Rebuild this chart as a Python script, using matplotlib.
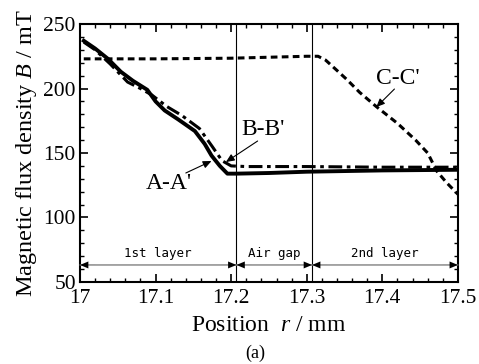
import matplotlib
matplotlib.use("Agg")
import matplotlib.pyplot as plt
from matplotlib.ticker import MultipleLocator

# ---- data ----
x_a = [17.005, 17.02, 17.037, 17.054, 17.07, 17.089, 17.1, 17.112, 17.13, 17.152,
       17.165, 17.174, 17.185, 17.195, 17.207, 17.25, 17.3, 17.4, 17.5]
y_a = [237, 231, 223, 213, 206, 199, 190, 183, 176, 167,
       157, 148, 140, 134, 134, 134.5, 135.5, 136.5, 137]

x_b = [17.005, 17.02, 17.04, 17.063, 17.08, 17.095, 17.115, 17.135, 17.158, 17.175,
       17.188, 17.2, 17.22, 17.3, 17.4, 17.5]
y_b = [236, 230, 219, 205, 200, 195, 186, 179, 169, 155,
       144, 140, 139.5, 139.5, 139, 139]

x_c = [17.005, 17.1, 17.2, 17.3, 17.315, 17.325, 17.34, 17.353, 17.37, 17.392,
       17.42, 17.444, 17.46, 17.472, 17.485, 17.5]
y_c = [223, 223, 223.5, 225, 225, 222, 214, 207, 197, 186,
       173, 160, 150, 136, 127, 118]

boundaries = [17.0, 17.207, 17.307, 17.5]
region_labels = ["1st layer", "Air gap", "2nd layer"]

xticks = [17, 17.1, 17.2, 17.3, 17.4, 17.5]
xtick_labels = ["17", "17.1", "17.2", "17.3", "17.4", "17.5"]
yticks = [50, 100, 150, 200, 250]

# curve labels: text position, arrow tail, arrow head
labels = ["A-A'", "B-B'", "C-C'"]
label_pos = [(17.118, 126), (17.242, 168), (17.42, 208)]
arrow_tail = [(17.14, 134.5), (17.235, 159.3), (17.416, 199.6)]
arrow_head = [(17.174, 143.8), (17.193, 143), (17.392, 185.6)]

# ---- figure ----
plt.rcParams['font.family'] = ['Liberation Serif', 'DejaVu Serif']
plt.rcParams['mathtext.fontset'] = 'custom'
plt.rcParams['mathtext.it'] = 'Liberation Serif:italic'
plt.rcParams['mathtext.rm'] = 'Liberation Serif'

fig = plt.figure(figsize=(4.79, 3.64), dpi=100)
ax = fig.add_axes([0.167, 0.2253, 0.789, 0.7087])

ax.plot(x_a, y_a, color='black', lw=2.8, solid_joinstyle='round')
ax.plot(x_b, y_b, color='black', lw=2.2, linestyle=(0, (4.5, 1.5, 1.2, 1.5)))
ax.plot(x_c, y_c, color='black', lw=2.2, linestyle=(0, (2.2, 1.4)))

for b in boundaries[1:3]:
    ax.axvline(b, color='black', lw=0.8)

ax.set_xlim(17.0, 17.5)
ax.set_ylim(50, 250)
ax.set_xticks(xticks)
ax.set_xticklabels(xtick_labels)
ax.set_yticks(yticks)
ax.xaxis.set_minor_locator(MultipleLocator(0.02))
ax.yaxis.set_minor_locator(MultipleLocator(10))
ax.tick_params(which='both', direction='in', top=True, right=True, labelsize=15.5)
ax.tick_params(which='major', length=6, width=1.2)
ax.tick_params(which='minor', length=3, width=1.0)
ax.tick_params(axis='x', pad=5)
ax.tick_params(axis='y', pad=3)
for s in ax.spines.values():
    s.set_linewidth(1.5)

ax.set_ylabel(r'Magnetic flux density $B$ / mT', fontsize=17.5, labelpad=3)
ax.set_xlabel(r'Position  $r$ / mm', fontsize=17, labelpad=5)
fig.text(0.532, 0.03, '(a)', ha='center', va='center', fontsize=13)

# curve annotations
for lab, tp, tail, head in zip(labels, label_pos, arrow_tail, arrow_head):
    ax.text(tp[0], tp[1], lab, fontsize=17, ha='center', va='center')
    ax.annotate('', xy=head, xytext=tail,
                arrowprops=dict(arrowstyle='-|>,head_length=0.5,head_width=0.22',
                                color='black', lw=0.8, shrinkA=0, shrinkB=0))

# region arrows
y_arrow = 63.2
for i in range(3):
    x0, x1 = boundaries[i], boundaries[i + 1]
    ax.annotate('', xy=(x1, y_arrow), xytext=(x0, y_arrow),
                arrowprops=dict(arrowstyle='-', color='0.5', lw=1.0,
                                shrinkA=0, shrinkB=0))
    for tip, tail in ((x1, x1 - 0.02), (x0, x0 + 0.02)):
        ax.annotate('', xy=(tip, y_arrow), xytext=(tail, y_arrow),
                    arrowprops=dict(arrowstyle='-|>,head_length=0.6,head_width=0.25',
                                    color='black', lw=0.01, shrinkA=0, shrinkB=0))
    ax.text((x0 + x1) / 2, y_arrow + 4, region_labels[i], ha='center', va='bottom',
            fontsize=9, family='DejaVu Sans Mono')

fig.savefig('out.png', dpi=100)
